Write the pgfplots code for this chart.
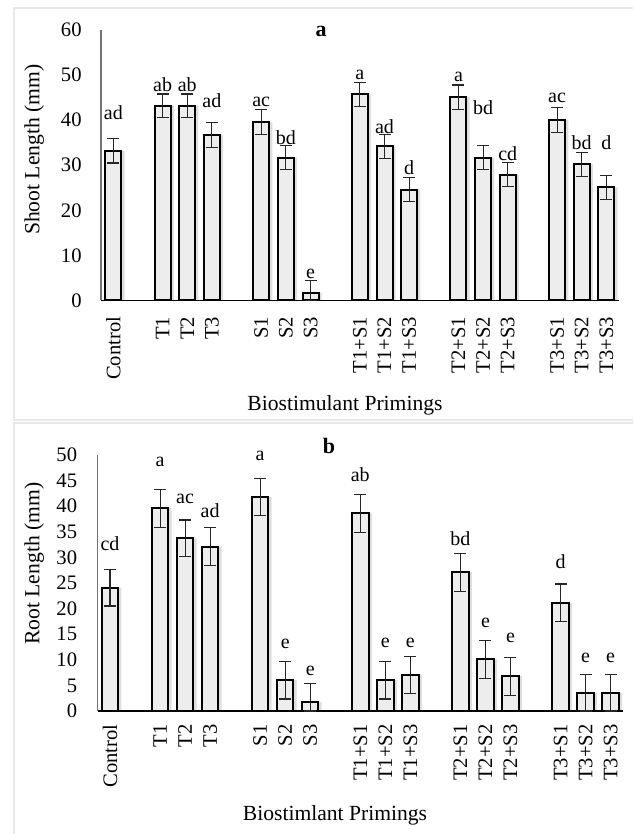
\documentclass[border=0pt]{standalone}
\usepackage{fontspec}
\setmainfont{Liberation Serif}
\usepackage{pgfplots}
\pgfplotsset{compat=1.18}
\usepackage{pgfplotstable}

% x = position, y = mean, e = upper error, em = lower error (cut at the axis), ly = letter height
\pgfplotstableread{
x y e em ly lab
0 33.2 2.7 2.7 41.7 ad
2 43.2 2.6 2.6 47.8 ab
3 43.2 2.6 2.6 47.8 ab
4 36.7 2.7 2.7 44.3 ad
6 39.6 2.7 2.7 44.1 ac
7 31.7 2.7 2.7 36.2 bd
8 1.7 2.7 1.7 6.0 e
10 45.7 2.7 2.7 50.0 a
11 34.2 2.7 2.7 38.6 ad
12 24.6 2.7 2.7 29.4 d
14 45.1 2.7 2.7 49.5 a
15 31.7 2.7 2.7 42.7 bd
16 27.9 2.7 2.7 32.5 cd
18 40.1 2.8 2.8 44.9 ac
19 30.2 2.7 2.7 34.9 bd
20 25.1 2.7 2.7 34.9 d
}\shoottab

\pgfplotstableread{
x y e em ly lab
0 24.1 3.6 3.6 32.7 cd
2 39.6 3.7 3.7 48.7 a
3 33.7 3.6 3.6 41.5 ac
4 32.1 3.7 3.7 39.1 ad
6 41.8 3.6 3.6 49.8 a
7 6.05 3.7 3.7 13.1 e
8 1.8 3.6 1.8 7.9 e
10 38.6 3.7 3.7 46.1 ab
11 6.05 3.7 3.7 13.3 e
12 7.1 3.6 3.6 13.3 e
14 27.1 3.7 3.7 33.7 bd
15 10.1 3.7 3.7 17.3 e
16 6.8 3.7 3.7 14.2 e
18 21.1 3.7 3.7 29.2 d
19 3.6 3.6 3.6 10.3 e
20 3.6 3.6 3.6 10.3 e
}\roottab

\pgfplotsset{
  myaxis/.style={
    scale only axis,
    xmin=-0.5, xmax=20.5, ymin=0,
    axis x line*=bottom, axis y line*=left,
    x axis line style={black, line width=0.7pt, -},
    y axis line style={black!55, line width=0.6pt, -},
    tick style={draw=none},
    major tick length=0pt,
    xtick={0,2,3,4,6,7,8,10,11,12,14,15,16,18,19,20},
    xticklabels={Control,T1,T2,T3,S1,S2,S3,T1+S1,T1+S2,T1+S3,T2+S1,T2+S2,T2+S3,T3+S1,T3+S2,T3+S3},
    xticklabel style={rotate=90, anchor=east, inner ysep=0pt, font=\fontsize{10.3}{12}\selectfont},
    yticklabel style={anchor=east, inner xsep=0pt, font=\fontsize{10.3}{12}\selectfont},
    /pgf/number format/assume math mode=true,
    clip=false,
  },
  mybars/.style={
    ybar, fill=black!7, draw=black, line width=1pt,
    /tikz/preaction={fill=black, draw=none, opacity=0.13, transform canvas={xshift=1.6pt}},
    /pgfplots/error bars/y dir=both,
    /pgfplots/error bars/y explicit,
    /pgfplots/error bars/error bar style={line width=0.55pt, black!85},
    /pgfplots/error bars/error mark options={rotate=90, mark size=3pt, line width=0.55pt, black!85},
  },
  mylabels/.style={
    draw=none, nodes near coords, point meta=explicit symbolic,
    every node near coord/.style={anchor=center, inner sep=0pt, font=\fontsize{10}{12}\selectfont},
  },
}

\begin{document}
\begin{tikzpicture}
% chart area frames
\draw[black!9, line width=1pt] (316.5pt,413pt) -- (7pt,413pt) -- (7pt,207pt) -- (316.5pt,207pt);
\draw[black!9, line width=1pt] (316.5pt,205.5pt) -- (7pt,205.5pt) -- (7pt,0pt);

% ---------- panel a ----------
\begin{axis}[myaxis, at={(50.5pt,266.75pt)}, anchor=south west,
  width=258.85pt, height=135.25pt, ymax=60, ytick={0,10,...,60},
  xticklabel style={inner xsep=8pt},
  yticklabel style={xshift=-9.5pt}]
\addplot[bar width=8pt, mybars] table[x=x, y=y, y error plus=e, y error minus=em] {\shoottab};
\addplot[mylabels] table[x=x, y=ly, meta=lab] {\shoottab};
\end{axis}
\node[font=\bfseries\fontsize{11}{13}\selectfont] at (160.5pt,401.5pt) {a};
\node[rotate=90, font=\fontsize{10.8}{13}\selectfont] at (17.15pt,342.15pt) {Shoot Length (mm)};
\node[font=\fontsize{10.8}{13}\selectfont] at (172.5pt,214.5pt) {Biostimulant Primings};

% ---------- panel b ----------
\begin{axis}[myaxis, at={(48.75pt,61.5pt)}, anchor=south west,
  width=262.8pt, height=128pt, ymax=50, ytick={0,5,...,50},
  xticklabel style={inner xsep=6.5pt},
  yticklabel style={xshift=-10pt}]
\addplot[bar width=8.25pt, mybars] table[x=x, y=y, y error plus=e, y error minus=em] {\roottab};
\addplot[mylabels] table[x=x, y=ly, meta=lab] {\roottab};
\end{axis}
\node[font=\bfseries\fontsize{11}{13}\selectfont] at (164.5pt,194pt) {b};
\node[rotate=90, font=\fontsize{10.8}{13}\selectfont] at (17.15pt,135.15pt) {Root Length (mm)};
\node[font=\fontsize{10.8}{13}\selectfont] at (167.5pt,9.5pt) {Biostimlant Primings};

\pgfresetboundingbox
\path[use as bounding box] (0pt,0pt) rectangle (316.5pt,417pt);
\end{tikzpicture}
\end{document}
